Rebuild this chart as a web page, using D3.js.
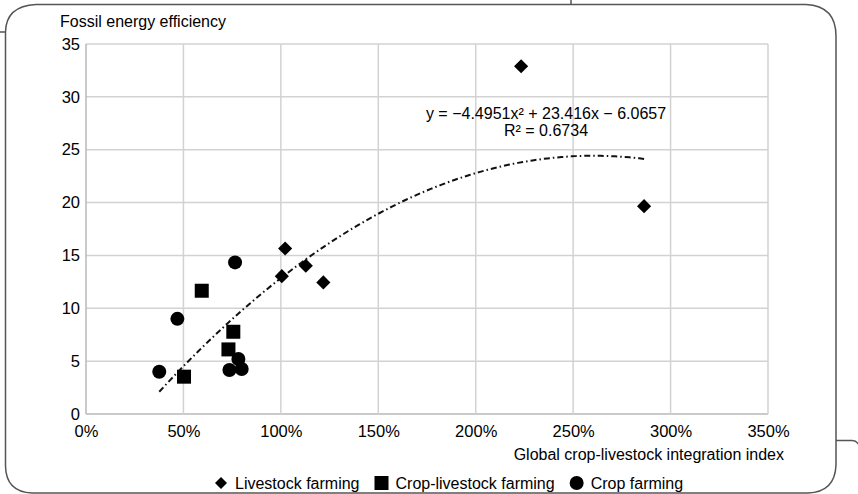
<!DOCTYPE html>
<html>
<head>
<meta charset="utf-8">
<script src="https://cdn.jsdelivr.net/npm/d3@7"></script>
<style>
  body { margin: 0; background: #fff; }
  text { font-family: "Liberation Sans", Arial, Helvetica, sans-serif; fill: #000; }
</style>
</head>
<body>
<script>
// values (x = integration index as fraction, y = efficiency)
var livestock = [[1.022, 15.66], [1.005, 13.04], [1.128, 14.02], [1.218, 12.45], [2.233, 32.9], [2.864, 19.66]];
var cropLivestock = [[0.594, 11.66], [0.756, 7.78], [0.731, 6.11], [0.503, 3.53]];
var crop = [[0.765, 14.34], [0.469, 9.0], [0.376, 4.0], [0.736, 4.16], [0.782, 5.2], [0.799, 4.25]];
var xTicks = [0, 0.5, 1, 1.5, 2, 2.5, 3, 3.5];
var yTicks = [0, 5, 10, 15, 20, 25, 30, 35];
var fitCoef = [-4.4951, 23.416, -6.0657]; // a, b, c of y = a x^2 + b x + c
var legendNames = ["Livestock farming", "Crop-livestock farming", "Crop farming"];

var svg = d3.select('body').append('svg')
    .attr('width', 858)
    .attr('height', 494);

var x = d3.scaleLinear().domain([0, 3.5]).range([86, 768]);
var y = d3.scaleLinear().domain([0, 35]).range([414, 44]);

// outer frame (rounded box) and the stray lines from the page layout
svg.append('path')
    .attr('d', 'M5.5,466 L5.5,32 Q6,6 36,4.5 L806,4.5 Q836,6 836,36 L836,465 Q835,492 808,493 L32,493 Q6,492 5.5,466')
    .attr('fill', 'none')
    .attr('stroke', '#555')
    .attr('stroke-width', 1.5);
svg.append('line').attr('x1', 0).attr('x2', 6).attr('y1', 32).attr('y2', 32)
    .attr('stroke', '#555').attr('stroke-width', 1.5);
svg.append('line').attr('x1', 571).attr('x2', 571).attr('y1', 0).attr('y2', 4.5)
    .attr('stroke', '#555').attr('stroke-width', 1.5);
svg.append('path').attr('d', 'M836,440.5 L852,440.5 Q857,441 858,444')
    .attr('fill', 'none').attr('stroke', '#555').attr('stroke-width', 1.5);

// gridlines
svg.append('g').selectAll('line').data(yTicks).enter().append('line')
    .attr('x1', x(0)).attr('x2', x(3.5))
    .attr('y1', function(d){ return y(d); })
    .attr('y2', function(d){ return y(d); })
    .attr('stroke', function(d){ return d == 0 ? '#b8b8b8' : '#d2d2d2'; })
    .attr('stroke-width', 1.5);
svg.append('g').selectAll('line').data(xTicks).enter().append('line')
    .attr('y1', y(0)).attr('y2', y(35))
    .attr('x1', function(d){ return x(d); })
    .attr('x2', function(d){ return x(d); })
    .attr('stroke', function(d){ return d == 0 ? '#b8b8b8' : '#d2d2d2'; })
    .attr('stroke-width', 1.5);

// axes labels via d3 axes, with lines hidden
var yAxis = svg.append('g')
    .attr('transform', 'translate(' + x(0) + ',0)')
    .call(d3.axisLeft(y).tickValues(yTicks).tickSize(0).tickPadding(6));
var xAxis = svg.append('g')
    .attr('transform', 'translate(0,' + y(0) + ')')
    .call(d3.axisBottom(x).tickValues(xTicks).tickSize(0).tickPadding(11)
        .tickFormat(function(d){ return Math.round(d * 100) + '%'; }));
[yAxis, xAxis].forEach(function(a){
    a.select('.domain').remove();
    a.selectAll('text')
        .style('font-family', '"Liberation Sans", Arial, sans-serif')
        .style('font-size', '16.5px')
        .attr('fill', '#000');
});

svg.append('text')
    .attr('x', 60).attr('y', 27)
    .style('font-size', '16px')
    .text('Fossil energy efficiency');
svg.append('text')
    .attr('x', 784).attr('y', 460)
    .attr('text-anchor', 'end')
    .style('font-size', '16px')
    .text('Global crop-livestock integration index');

// trendline
var allX = livestock.concat(cropLivestock, crop).map(function(d){ return d[0]; });
var xmin = d3.min(allX), xmax = d3.max(allX);
var fitPts = d3.range(0, 101).map(function(i){
    var t = xmin + (xmax - xmin) * i / 100;
    return [t, fitCoef[0] * t * t + fitCoef[1] * t + fitCoef[2]];
});
svg.append('path')
    .datum(fitPts)
    .attr('d', d3.line().x(function(d){ return x(d[0]); }).y(function(d){ return y(d[1]); }))
    .attr('fill', 'none')
    .attr('stroke', '#111')
    .attr('stroke-width', 2)
    .attr('stroke-dasharray', '6,3,1.5,3');

svg.append('text')
    .attr('x', 546).attr('y', 119)
    .attr('text-anchor', 'middle')
    .style('font-size', '16px')
    .text('y = \u22124.4951x\u00B2 + 23.416x \u2212 6.0657');
svg.append('text')
    .attr('x', 546).attr('y', 136)
    .attr('text-anchor', 'middle')
    .style('font-size', '16px')
    .text('R\u00B2 = 0.6734');

// markers
var diamond = d3.symbol().type(d3.symbolSquare).size(100);
svg.append('g').selectAll('path').data(livestock).enter().append('path')
    .attr('d', diamond)
    .attr('transform', function(d){ return 'translate(' + x(d[0]) + ',' + y(d[1]) + ') rotate(45)'; })
    .attr('fill', '#000');
svg.append('g').selectAll('rect').data(cropLivestock).enter().append('rect')
    .attr('x', function(d){ return x(d[0]) - 7; })
    .attr('y', function(d){ return y(d[1]) - 7; })
    .attr('width', 14).attr('height', 14)
    .attr('fill', '#000');
svg.append('g').selectAll('circle').data(crop).enter().append('circle')
    .attr('cx', function(d){ return x(d[0]); })
    .attr('cy', function(d){ return y(d[1]); })
    .attr('r', 7)
    .attr('fill', '#000');

// legend
var legend = svg.append('g');
var lx = 221, ly = 483;
legendNames.forEach(function(name, i){
    if (i == 0) {
        legend.append('path').attr('d', d3.symbol().type(d3.symbolSquare).size(72))
            .attr('transform', 'translate(' + lx + ',' + ly + ') rotate(45)');
    } else if (i == 1) {
        legend.append('rect').attr('x', lx - 7).attr('y', ly - 7).attr('width', 14).attr('height', 14);
    } else {
        legend.append('circle').attr('cx', lx).attr('cy', ly).attr('r', 7);
    }
    var t = legend.append('text')
        .attr('x', lx + 14).attr('y', ly + 6)
        .style('font-size', '16px')
        .text(name);
    lx = lx + 14 + t.node().getComputedTextLength() + 22;
});
</script>
</body>
</html>
